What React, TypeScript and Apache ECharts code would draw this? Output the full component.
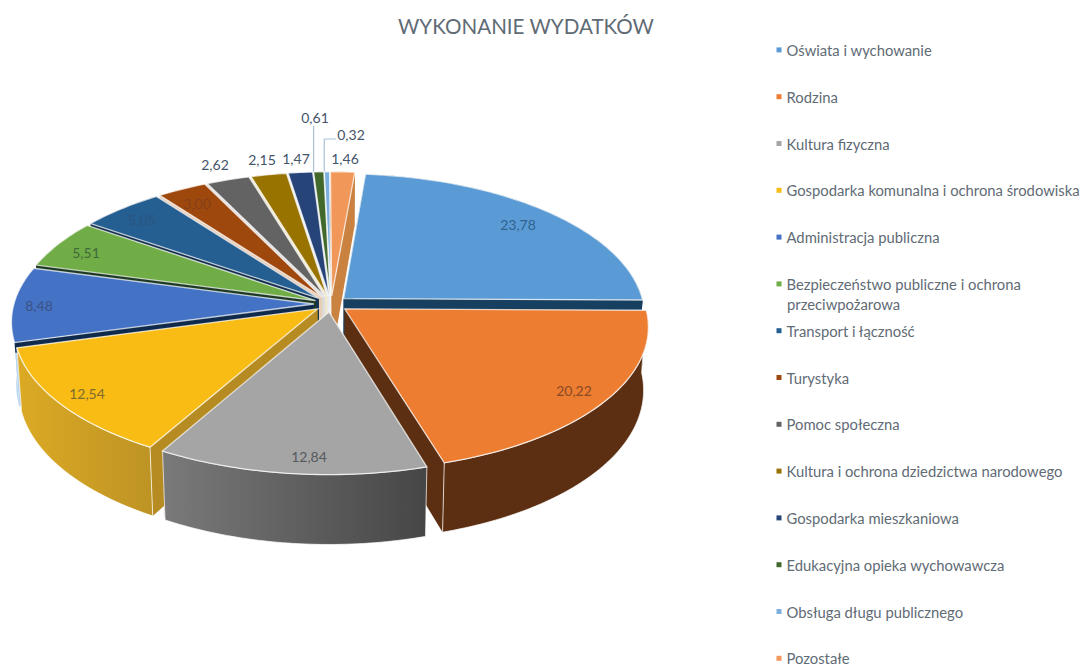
import React, { useEffect, useRef } from "react";
import * as echarts from "echarts";

const titleText = "WYKONANIE WYDATKÓW";
const categories = [
  "Oświata i wychowanie",
  "Rodzina",
  "Kultura fizyczna",
  "Gospodarka komunalna i ochrona środowiska",
  "Administracja publiczna",
  "Bezpieczeństwo publiczne i ochrona\nprzeciwpożarowa",
  "Transport i łączność",
  "Turystyka",
  "Pomoc społeczna",
  "Kultura i ochrona dziedzictwa narodowego",
  "Gospodarka mieszkaniowa",
  "Edukacyjna opieka wychowawcza",
  "Obsługa długu publicznego",
  "Pozostałe",
];
const values = [23.78, 20.22, 12.84, 12.54, 8.48, 5.51, 5.05, 3.0, 2.62, 2.15, 1.47, 0.61, 0.32, 1.46];

const topColors = ["#5B9BD5", "#ED7D31", "#A5A5A5", "#F9BC15", "#4472C4", "#70AD47", "#255E91", "#9E480E", "#636363", "#997300", "#264478", "#43682B", "#7CAFDD", "#F1975A"];
const cutColors = ["#173f60", "#5c2f12", "#5c2f12", "#b68c22", "#0f2a4a", "#1d3a24", "#14304f", "#e6cdb6", "#dcdcdc", "#efe8cc", "#e8ecf2", "#eef2ea", "#f4f8fc", "#c9823f"];
const cutColorsLow = ["#173f60", "#5c2f12", "#5c2f12", "#b68c22", "#bcd6ee", "#1d3a24", "#14304f", "#e6cdb6", "#dcdcdc", "#efe8cc", "#e8ecf2", "#eef2ea", "#f4f8fc", "#c9823f"];
const wallColorsA = ["#173f60", "#5c2f12", "#7a7a7a", "#dcaa24", "#bcd6ee", "#1d3a24", "#14304f", "#e6cdb6", "#dcdcdc", "#efe8cc", "#e8ecf2", "#eef2ea", "#f4f8fc", "#c9823f"];
const wallColorsB = ["#173f60", "#5c2f12", "#464646", "#bd9324", "#bcd6ee", "#1d3a24", "#14304f", "#e6cdb6", "#dcdcdc", "#efe8cc", "#e8ecf2", "#eef2ea", "#f4f8fc", "#c9823f"];
const labelAnchors = [[518, 224], [574, 390], [309, 456], [87, 393], [39, 305], [86, 252], [142, 219], [197, 203], [215, 164], [262, 159], [296, 158], [315, 117], [351, 134], [345, 158]];
const labelColors = ["#2f6291", "#8a4a25", "#55595e", "#7d6a30", "#3c5384", "#3f6a3a", "#2a5580", "#85401a", "#44546a", "#44546a", "#44546a", "#44546a", "#44546a", "#44546a"];

const CX = 331, CY = 304, R0 = 300, RY0 = 141, K = 0.12, EXPLODE = 0.057, START = 5, DEPTH = 62, BOTTOM_SCALE = 0.985;
const total = values.reduce((a, b) => a + b, 0);
const rad = (d: number) => (d * Math.PI) / 180;
const fontFamily = "Lato, 'Noto Sans', sans-serif";

function project(X: number, Y: number): number[] {
  const p = 1 / (1 - K * Y);
  return [CX + R0 * X * p, CY + RY0 * Y * p];
}
function lower(pt: number[], Y: number): number[] {
  return [CX + (pt[0] - CX) * BOTTOM_SCALE, pt[1] + DEPTH * (1 + 0.12 * Y)];
}

function sliceGeometry(i: number) {
  const before = values.slice(0, i).reduce((a, b) => a + b, 0);
  const a0 = START + (before / total) * 360;
  const a1 = a0 + (values[i] / total) * 360;
  const mid = rad((a0 + a1) / 2);
  const ox = EXPLODE * Math.sin(mid), oy = -EXPLODE * Math.cos(mid);
  const tops: number[][] = [];
  const bottoms: number[][] = [];
  const steps = Math.max(2, Math.ceil(a1 - a0));
  for (let s = 0; s <= steps; s++) {
    const t = rad(a0 + ((a1 - a0) * s) / steps);
    const X = ox + Math.sin(t), Y = oy - Math.cos(t);
    const pt = project(X, Y);
    tops.push(pt);
    bottoms.push(lower(pt, Y));
  }
  const apex = project(ox, oy);
  const apexLow = lower(apex, oy);
  return { tops, bottoms, apex, apexLow, depthKey: -Math.cos(mid) };
}

const drawRank = values
  .map((_, i) => i)
  .sort((a, b) => sliceGeometry(a).depthKey - sliceGeometry(b).depthKey);

const edge = "rgba(255,255,255,0.72)";
const labelOf = (v: number) => v.toFixed(2).replace(".", ",");

function renderSlice(i: number) {
  const g = sliceGeometry(i);
  const n = g.tops.length - 1;
  const wallFacesFront = g.depthKey > 0.3;
  const wall = {
    type: "polygon",
    shape: { points: [...g.tops, ...g.bottoms.slice().reverse()] },
    style: {
      stroke: wallFacesFront ? edge : "none",
      lineWidth: 1,
      fill: new echarts.graphic.LinearGradient(1, 0, 0, 0, [
        { offset: 0, color: wallColorsB[i] },
        { offset: 1, color: wallColorsA[i] },
      ]),
    },
  };
  const faceFill = new echarts.graphic.LinearGradient(0, 0, 0, 1, [
    { offset: 0, color: cutColors[i] },
    { offset: 0.47, color: cutColors[i] },
    { offset: 0.48, color: cutColorsLow[i] },
    { offset: 1, color: cutColorsLow[i] },
  ]);
  const faces = [
    { type: "polygon", shape: { points: [g.apex, g.tops[n], g.bottoms[n], g.apexLow] }, style: { fill: cutColors[i] } },
    { type: "polygon", shape: { points: [g.apex, g.tops[0], g.bottoms[0], g.apexLow] }, style: { fill: faceFill } },
  ];
  const children: any[] = [
    ...(wallFacesFront ? [...faces, wall] : [wall, ...faces]),
    { type: "polygon", shape: { points: [g.apex, ...g.tops] }, style: { stroke: edge, lineWidth: 1.3, fill: topColors[i] } },
    {
      type: "text",
      style: {
        x: labelAnchors[i][0],
        y: labelAnchors[i][1],
        text: labelOf(values[i]),
        fill: labelColors[i],
        font: `14px ${fontFamily}`,
        align: "center",
        verticalAlign: "middle",
      },
    },
  ];
  if (i === 11 || i === 12) {
    const [mx, my] = g.tops[0];
    const [lx, ly] = labelAnchors[i];
    const pts = i === 11 ? [[mx, my], [mx, ly + 9]] : [[mx, my], [mx, ly + 5], [lx - 15, ly + 5]];
    children.push({ type: "polyline", shape: { points: pts }, style: { fill: "none", stroke: "#a9c4db", lineWidth: 1.2 } });
  }
  return { type: "group", children };
}

export default function App() {
  const ref = useRef<HTMLDivElement>(null);
  useEffect(() => {
    document.body.style.margin = "0";
    const chart = echarts.init(ref.current!, undefined, { renderer: "svg" });
    chart.setOption({
      animation: false,
      backgroundColor: "#ffffff",
      title: {
        text: titleText,
        left: 526,
        top: 15,
        padding: 0,
        textAlign: "center",
        textStyle: { color: "#5f6b75", fontSize: 20.6, fontWeight: "normal", fontFamily },
      },
      legend: {
        orient: "vertical",
        left: 776.5,
        top: 42.4,
        padding: 0,
        itemWidth: 5,
        itemHeight: 5,
        itemGap: 31.8,
        icon: "rect",
        selectedMode: false,
        data: categories,
        formatter: (name: string) => name.split("\n")[0],
        textStyle: { color: "#5f6b75", fontSize: 14.8, height: 12, lineHeight: 12, fontFamily },
      },
      graphic: [
        {
          type: "text",
          x: 787,
          y: 304,
          style: {
            text: categories[5].split("\n")[1],
            fill: "#5f6b75",
            font: `14.8px ${fontFamily}`,
            verticalAlign: "middle",
          },
        },
      ],
      series: categories.map((name, i) => ({
        type: "custom",
        name,
        coordinateSystem: "none",
        z: 2 + drawRank.indexOf(i),
        itemStyle: { color: topColors[i] },
        data: [[values[i]]],
        silent: true,
        renderItem: () => renderSlice(i),
      })),
    });
    return () => chart.dispose();
  }, []);
  return <div ref={ref} style={{ position: "fixed", left: 0, top: 0, width: 1085, height: 666 }} />;
}
